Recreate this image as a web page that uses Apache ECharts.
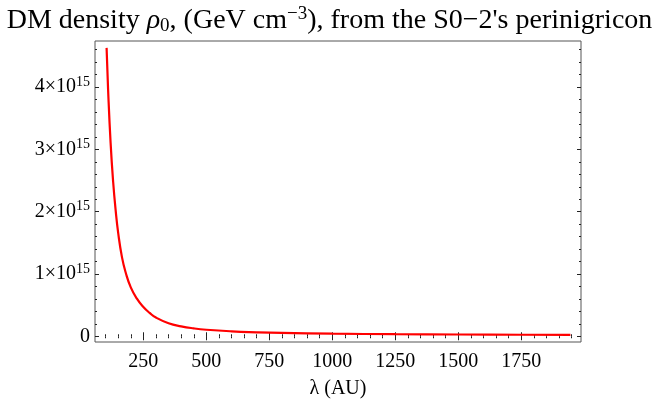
<!DOCTYPE html>
<html>
<head>
<meta charset="utf-8">
<script src="https://cdn.jsdelivr.net/npm/echarts@6/dist/echarts.min.js"></script>
<style>html,body{margin:0;padding:0;background:#fff}#c{width:659px;height:410px}</style>
</head>
<body>
<div id="c"></div>
<script>
// Data (lambda in AU, density in units of 1e15 GeV cm^-3)
const lambdaAU = [104, 110, 120, 130, 140, 150, 165, 180, 200, 225, 250, 275, 300, 350, 400, 450, 500, 600, 700, 800, 1000, 1250, 1500, 1750, 1945];
const density15 = [4.63, 3.96, 3.10, 2.48, 2.02, 1.66, 1.27, 1.02, 0.785, 0.60, 0.47, 0.375, 0.30, 0.21, 0.16, 0.127, 0.105, 0.079, 0.064, 0.054, 0.042, 0.033, 0.028, 0.024, 0.021];
const xMajorTicks = [250, 500, 750, 1000, 1250, 1500, 1750];
const yMajorTicks = [0, 1, 2, 3, 4];

const xMinorTicks = [];
for (let v = 100; v <= 1950; v += 50) xMinorTicks.push(v);
const yMinorTicks = [];
for (let v = 0; v <= 46; v += 2) yMinorTicks.push(v / 10);

const serif = 'Liberation Serif';
const data = lambdaAU.map((x, i) => [x, density15[i]]);

const XMIN = 58, XMAX = 1987, YMIN = -0.092, YMAX = 4.74;
const tickColor = '#222';

function xAxisDef(pos, ticks, len, labels) {
  return {
    type: 'value', position: pos, min: XMIN, max: XMAX,
    axisLine: { show: false },
    splitLine: { show: false },
    axisTick: { show: true, inside: true, length: len, customValues: ticks, lineStyle: { color: tickColor, width: 1 } },
    axisLabel: labels ? { show: true, customValues: ticks, fontFamily: serif, fontSize: 20, color: '#000', margin: 10,
      formatter: function (v) { return String(v); } } : { show: false, customValues: ticks }
  };
}
function yAxisDef(pos, ticks, len, labels) {
  return {
    type: 'value', position: pos, min: YMIN, max: YMAX,
    axisLine: { show: false },
    splitLine: { show: false },
    axisTick: { show: true, inside: true, length: len, customValues: ticks, lineStyle: { color: tickColor, width: 1 } },
    axisLabel: labels ? {
      show: true, customValues: ticks, margin: 5,
      formatter: function (v) { return v === 0 ? '{b|0}' : '{b|' + v + '\u00D710}{s|15}'; },
      rich: {
        b: { fontFamily: serif, fontSize: 20, color: '#000' },
        s: { fontFamily: serif, fontSize: 14, color: '#000', padding: [0, 0, 10, 0] }
      }
    } : { show: false, customValues: ticks }
  };
}

const xa0 = xAxisDef('bottom', xMajorTicks, 4, true);
xa0.name = '\u03BB (AU)';
xa0.nameLocation = 'middle';
xa0.nameGap = 37;
xa0.nameTextStyle = { fontFamily: serif, fontSize: 20, color: '#000' };

const option = {
  animation: false,
  backgroundColor: '#fff',
  title: {
    left: 'center', top: 0,
    text: '{a|DM density }{i|\u03C1}{sub|0}{a|, (GeV cm}{sup|\u22123}{a|), from the S0\u22122\'s perinigricon}',
    textStyle: {
      fontWeight: 'normal',
      rich: {
        a: { fontFamily: serif, fontSize: 28, fontWeight: 'normal', color: '#000' },
        i: { fontFamily: serif, fontSize: 28, fontStyle: 'italic', fontWeight: 'normal', color: '#000' },
        sub: { fontFamily: serif, fontSize: 19, fontWeight: 'normal', color: '#000', padding: [10, 0, 0, 0] },
        sup: { fontFamily: serif, fontSize: 19, fontWeight: 'normal', color: '#000', padding: [0, 0, 13, 0] }
      }
    }
  },
  grid: { left: 95, right: 78, top: 41, bottom: 68, show: true, borderColor: '#555', borderWidth: 1, backgroundColor: 'transparent' },
  xAxis: [
    xa0,
    xAxisDef('bottom', xMinorTicks, 2, false),
    xAxisDef('top', xMajorTicks, 4, false),
    xAxisDef('top', xMinorTicks, 2, false)
  ],
  yAxis: [
    yAxisDef('left', yMajorTicks, 4, true),
    yAxisDef('left', yMinorTicks, 2, false),
    yAxisDef('right', yMajorTicks, 4, false),
    yAxisDef('right', yMinorTicks, 2, false)
  ],
  series: [{
    type: 'line', xAxisIndex: 0, yAxisIndex: 0, data: data,
    smooth: 0.5, showSymbol: false, symbol: 'none',
    lineStyle: { color: '#ff0000', width: 2.2 }
  }]
};
const chart = echarts.init(document.getElementById('c'));
chart.setOption(option);
</script>
</body>
</html>
